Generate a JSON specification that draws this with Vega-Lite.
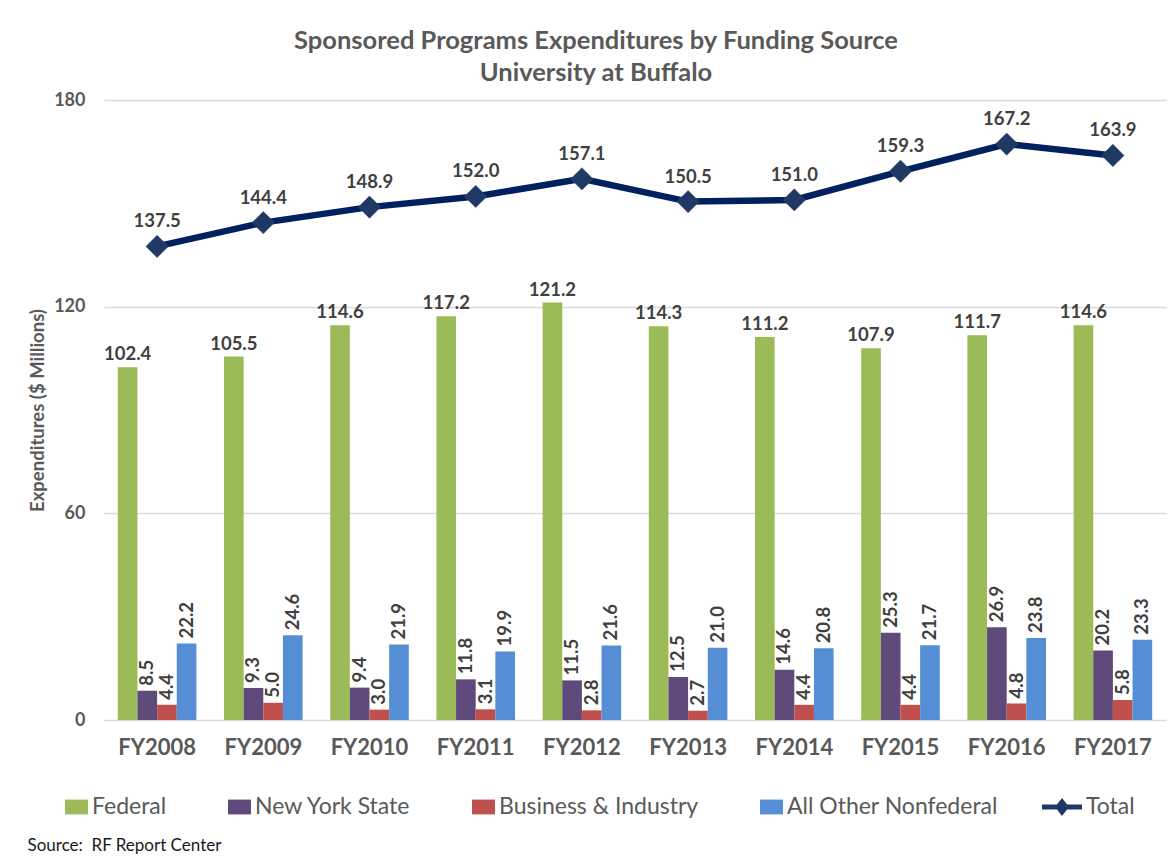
{
  "$schema": "https://vega.github.io/schema/vega-lite/v6.json",
  "autosize": {"type": "none"},
  "width": 1062,
  "height": 620,
  "padding": {"left": 104, "top": 100, "right": 2, "bottom": 138},
  "background": "white",
  "config": {"view": {"stroke": null}, "font": "Lato"},
  "title": {
    "text": ["Sponsored Programs Expenditures by Funding Source", "University at Buffalo"],
    "fontSize": 25.5,
    "fontWeight": "bold",
    "color": "#595959",
    "font": "Lato",
    "anchor": "middle",
    "offset": 5,
    "dx": -39,
    "lineHeight": 32
  },
  "datasets": {
    "bars": [
      {"year": "FY2008", "source": "Federal", "value": 102.4},
      {"year": "FY2008", "source": "New York State", "value": 8.5},
      {"year": "FY2008", "source": "Business & Industry", "value": 4.4},
      {"year": "FY2008", "source": "All Other Nonfederal", "value": 22.2},
      {"year": "FY2009", "source": "Federal", "value": 105.5},
      {"year": "FY2009", "source": "New York State", "value": 9.3},
      {"year": "FY2009", "source": "Business & Industry", "value": 5.0},
      {"year": "FY2009", "source": "All Other Nonfederal", "value": 24.6},
      {"year": "FY2010", "source": "Federal", "value": 114.6},
      {"year": "FY2010", "source": "New York State", "value": 9.4},
      {"year": "FY2010", "source": "Business & Industry", "value": 3.0},
      {"year": "FY2010", "source": "All Other Nonfederal", "value": 21.9},
      {"year": "FY2011", "source": "Federal", "value": 117.2},
      {"year": "FY2011", "source": "New York State", "value": 11.8},
      {"year": "FY2011", "source": "Business & Industry", "value": 3.1},
      {"year": "FY2011", "source": "All Other Nonfederal", "value": 19.9},
      {"year": "FY2012", "source": "Federal", "value": 121.2},
      {"year": "FY2012", "source": "New York State", "value": 11.5},
      {"year": "FY2012", "source": "Business & Industry", "value": 2.8},
      {"year": "FY2012", "source": "All Other Nonfederal", "value": 21.6},
      {"year": "FY2013", "source": "Federal", "value": 114.3},
      {"year": "FY2013", "source": "New York State", "value": 12.5},
      {"year": "FY2013", "source": "Business & Industry", "value": 2.7},
      {"year": "FY2013", "source": "All Other Nonfederal", "value": 21.0},
      {"year": "FY2014", "source": "Federal", "value": 111.2},
      {"year": "FY2014", "source": "New York State", "value": 14.6},
      {"year": "FY2014", "source": "Business & Industry", "value": 4.4},
      {"year": "FY2014", "source": "All Other Nonfederal", "value": 20.8},
      {"year": "FY2015", "source": "Federal", "value": 107.9},
      {"year": "FY2015", "source": "New York State", "value": 25.3},
      {"year": "FY2015", "source": "Business & Industry", "value": 4.4},
      {"year": "FY2015", "source": "All Other Nonfederal", "value": 21.7},
      {"year": "FY2016", "source": "Federal", "value": 111.7},
      {"year": "FY2016", "source": "New York State", "value": 26.9},
      {"year": "FY2016", "source": "Business & Industry", "value": 4.8},
      {"year": "FY2016", "source": "All Other Nonfederal", "value": 23.8},
      {"year": "FY2017", "source": "Federal", "value": 114.6},
      {"year": "FY2017", "source": "New York State", "value": 20.2},
      {"year": "FY2017", "source": "Business & Industry", "value": 5.8},
      {"year": "FY2017", "source": "All Other Nonfederal", "value": 23.3}
    ],
    "totals": [
      {"year": "FY2008", "source": "Total", "value": 137.5},
      {"year": "FY2009", "source": "Total", "value": 144.4},
      {"year": "FY2010", "source": "Total", "value": 148.9},
      {"year": "FY2011", "source": "Total", "value": 152.0},
      {"year": "FY2012", "source": "Total", "value": 157.1},
      {"year": "FY2013", "source": "Total", "value": 150.5},
      {"year": "FY2014", "source": "Total", "value": 151.0},
      {"year": "FY2015", "source": "Total", "value": 159.3},
      {"year": "FY2016", "source": "Total", "value": 167.2},
      {"year": "FY2017", "source": "Total", "value": 163.9}
    ]
  },
  "encoding": {
    "x": {
      "field": "year",
      "type": "nominal",
      "sort": null,
      "scale": {"paddingInner": 0.26, "paddingOuter": 0.13},
      "axis": {
        "title": "Source:\u00a0 RF Report Center",
        "titleX": -77,
        "titleY": 125,
        "titleAnchor": "start",
        "titleAlign": "left",
        "titleBaseline": "middle",
        "titleFontSize": 17,
        "titleFontWeight": "normal",
        "titleColor": "#1a1a1a",
        "labelAngle": 0,
        "labelFontSize": 22,
        "labelFontWeight": "bold",
        "labelColor": "#595959",
        "labelPadding": 17,
        "ticks": false,
        "domain": false
      }
    },
    "y": {
      "field": "value",
      "type": "quantitative",
      "scale": {"domain": [0, 180], "nice": false},
      "axis": {
        "values": [0, 60, 120, 180],
        "title": "Expenditures ($ Millions)",
        "titleFontSize": 18.5,
        "titleFontWeight": "bold",
        "titleColor": "#595959",
        "titlePadding": 6,
        "labelFontSize": 18,
        "labelFontWeight": "bold",
        "labelColor": "#595959",
        "labelPadding": 19,
        "ticks": false,
        "domain": false,
        "gridColor": "#D9D9D9",
        "gridWidth": 1.3
      }
    }
  },
  "layer": [
    {
      "data": {"name": "bars"},
      "mark": {"type": "bar"},
      "encoding": {
        "xOffset": {
          "field": "source",
          "type": "nominal",
          "sort": ["Federal", "New York State", "Business & Industry", "All Other Nonfederal"],
          "scale": {"paddingInner": 0, "paddingOuter": 0}
        },
        "color": {
          "field": "source",
          "type": "nominal",
          "scale": {
            "domain": ["Federal", "New York State", "Business & Industry", "All Other Nonfederal", "Total"],
            "range": ["#9BBB59", "#604A7B", "#C0504D", "#558ED5", "#1F3864"]
          },
          "legend": {
            "title": null,
            "orient": "none",
            "direction": "horizontal",
            "columns": 5,
            "legendX": -56,
            "legendY": 687,
            "symbolSize": 1600,
            "labelFontSize": 23,
            "labelFont": "Lato",
            "labelColor": "#595959",
            "labelOffset": 4,
            "columnPadding": 44,
            "labelLimit": 400,
            "symbolStrokeWidth": 0,
            "symbolOpacity": 1,
            "encode": {
              "symbols": {
                "update": {
                  "shape": {"signal": "datum.label === 'Total' ? 'M-1,-0.13H1V0.13H-1Z M0,-0.45L0.35,0L0,0.45L-0.35,0Z' : 'M-0.15,-0.37H1V0.37H-0.15Z'"},
                  "strokeWidth": {"value": 0},
                  "opacity": {"value": 1}
                }
              }
            }
          }
        }
      }
    },
    {
      "data": {"name": "bars"},
      "transform": [{"filter": "datum.source === 'Federal'"}],
      "mark": {"type": "text", "baseline": "alphabetic", "dy": -7, "fontSize": 18.5, "fontWeight": "bold", "color": "#404040", "font": "Lato"},
      "encoding": {
        "xOffset": {
          "field": "source",
          "type": "nominal",
          "sort": ["Federal", "New York State", "Business & Industry", "All Other Nonfederal"],
          "scale": {"paddingInner": 0, "paddingOuter": 0}
        },
        "text": {"field": "value", "type": "quantitative", "format": ".1f"}
      }
    },
    {
      "data": {"name": "bars"},
      "transform": [{"filter": "datum.source !== 'Federal'"}],
      "mark": {"type": "text", "angle": 270, "align": "left", "baseline": "middle", "dx": 5, "fontSize": 18.5, "fontWeight": "bold", "color": "#404040", "font": "Lato"},
      "encoding": {
        "xOffset": {
          "field": "source",
          "type": "nominal",
          "sort": ["Federal", "New York State", "Business & Industry", "All Other Nonfederal"],
          "scale": {"paddingInner": 0, "paddingOuter": 0}
        },
        "text": {"field": "value", "type": "quantitative", "format": ".1f"}
      }
    },
    {
      "data": {"name": "totals"},
      "mark": {"type": "line", "strokeWidth": 6.5, "color": "#002060"},
      "encoding": {}
    },
    {
      "data": {"name": "totals"},
      "mark": {"type": "point", "shape": "diamond", "size": 500, "filled": true, "opacity": 1, "stroke": "#2F4B7C", "strokeWidth": 0.5},
      "encoding": {
        "color": {"field": "source", "type": "nominal"}
      }
    },
    {
      "data": {"name": "totals"},
      "mark": {"type": "text", "baseline": "alphabetic", "dy": -19, "fontSize": 18.5, "fontWeight": "bold", "color": "#404040", "font": "Lato"},
      "encoding": {
        "text": {"field": "value", "type": "quantitative", "format": ".1f"}
      }
    }
  ]
}
